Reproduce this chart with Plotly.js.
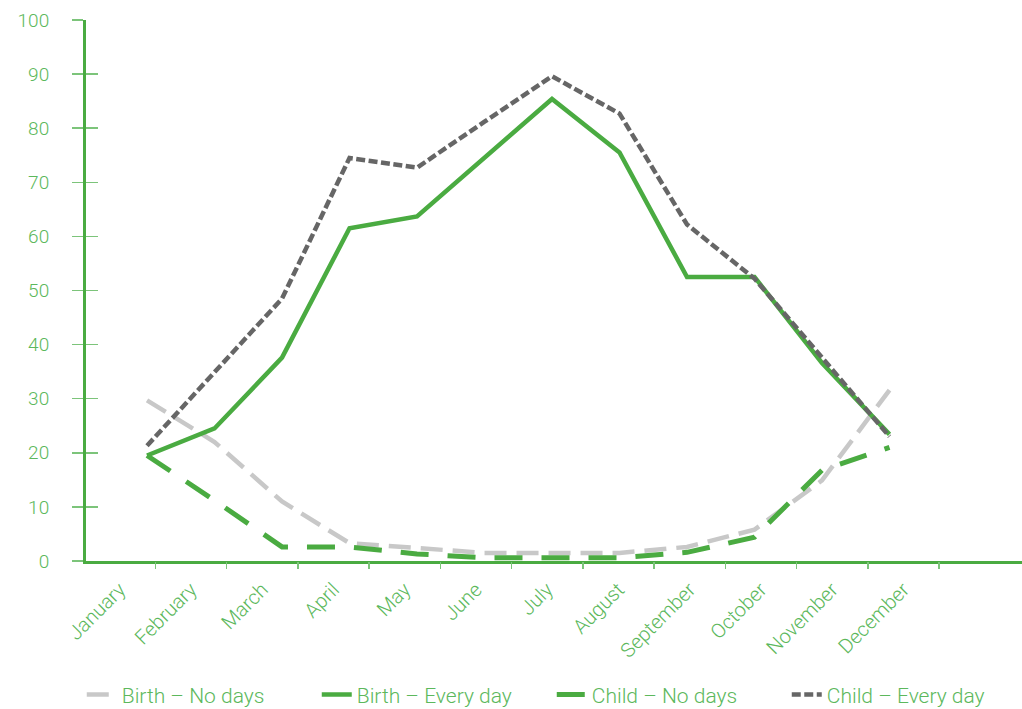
<!DOCTYPE html>
<html>
<head>
<meta charset="utf-8">
<script src="https://cdn.plot.ly/plotly-3.0.1.min.js"></script>
<style>html,body{margin:0;padding:0;background:#fff;}#chart{width:1022px;height:709px;}</style>
</head>
<body>
<div id="chart"></div>
<script>
var months = ["January","February","March","April","May","June","July","August","September","October","November","December"];
var monthIndex = [0,1,2,3,4,5,6,7,8,9,10,11];
var birthNoDays    = [29.7, 22.0, 11.0, 3.3, 2.4, 1.5, 1.5, 1.5, 2.6, 5.8, 14.9, 31.6];
var birthEveryDay  = [19.5, 24.5, 37.6, 61.5, 63.7, 74.6, 85.4, 75.5, 52.5, 52.5, 36.6, 23.4];
var childNoDays    = [19.5, 11.2, 2.6, 2.6, 1.3, 0.6, 0.6, 0.6, 1.6, 4.4, 16.8, 21.0];
var childEveryDay  = [21.3, 34.9, 48.5, 74.5, 72.7, 81.2, 89.6, 82.7, 62.2, 52.2, 37.5, 23.0];
var seriesNames = ["Birth \u2013 No days","Birth \u2013 Every day","Child \u2013 No days","Child \u2013 Every day"];

var GREEN = "#4aab41";
var TXT = "#5cb85c";
var TICK = "#7cc47a";
var FONT = "Roboto, 'Liberation Sans', sans-serif";

var traces = [
  {x: monthIndex, y: birthNoDays, name: seriesNames[0], type: "scatter", mode: "lines",
   line: {color: "#c8c8c8", width: 4.5, dash: "22px,10px"}},
  {x: monthIndex, y: birthEveryDay, name: seriesNames[1], type: "scatter", mode: "lines",
   line: {color: GREEN, width: 4.5}},
  {x: monthIndex, y: childNoDays, name: seriesNames[2], type: "scatter", mode: "lines",
   line: {color: GREEN, width: 5, dash: "28px,19px"}},
  {x: monthIndex, y: childEveryDay, name: seriesNames[3], type: "scatter", mode: "lines",
   line: {color: "#666666", width: 4.5, dash: "9px,3.5px"}},
  // empty helper traces so the overlaid label / tick axes are created
  {x: [null], y: [null], xaxis: "x2", yaxis: "y", showlegend: false, hoverinfo: "skip", mode: "lines"},
  {x: [null], y: [null], xaxis: "x3", yaxis: "y", showlegend: false, hoverinfo: "skip", mode: "lines"},
  {x: [null], y: [null], xaxis: "x", yaxis: "y2", showlegend: false, hoverinfo: "skip", mode: "lines"}
];

var boundaries = [];
for (var i = 0; i <= 12; i++) boundaries.push(i - 0.5);

var layout = {
  width: 1022, height: 709,
  margin: {l: 86, r: 0, t: 20, b: 148},
  paper_bgcolor: "#fff", plot_bgcolor: "#fff",
  font: {family: FONT, size: 19, color: TXT, weight: 300},
  showlegend: true,
  legend: {orientation: "h", xref: "container", yref: "container", x: 0.08, xanchor: "left",
           y: 0.02, yanchor: "middle", entrywidth: 190,
           font: {family: FONT, size: 21, color: TXT, weight: 300}, itemwidth: 30, tracegroupgap: 0},
  xaxis: {range: [-0.904, 12.963], showticklabels: false, ticks: "", showgrid: false, zeroline: false,
          showline: true, linecolor: GREEN, linewidth: 2.5, fixedrange: true},
  xaxis2: {overlaying: "x", anchor: "y", side: "bottom", range: [-0.472, 12.665],
           tickmode: "array", tickvals: monthIndex, ticktext: months, tickangle: -45,
           ticks: "", showgrid: false, zeroline: false, showline: false, ticklabelstandoff: 12,
           tickfont: {family: FONT, size: 20, color: TXT, weight: 300}},
  xaxis3: {overlaying: "x", anchor: "y", side: "bottom", range: [-0.472, 12.665],
           tickmode: "array", tickvals: boundaries, ticks: "outside", ticklen: 7, tickwidth: 1.5,
           tickcolor: TICK, showticklabels: false, showgrid: false, zeroline: false, showline: false},
  yaxis: {range: [0, 100], tickmode: "linear", tick0: 0, dtick: 10, ticks: "outside", ticklen: 11,
          tickwidth: 1.5, tickcolor: TICK, showgrid: false, zeroline: false, showline: true,
          linecolor: GREEN, linewidth: 3, ticklabelstandoff: 19,
          tickfont: {family: FONT, size: 19, color: TXT, weight: 300}},
  yaxis2: {overlaying: "y", anchor: "x", side: "left", range: [0, 100], tickmode: "linear", tick0: 0,
           dtick: 10, ticks: "inside", ticklen: 12, tickwidth: 1.5, tickcolor: TICK,
           showticklabels: false, showgrid: false, zeroline: false, showline: false}
};

Plotly.newPlot("chart", traces, layout, {displayModeBar: false, staticPlot: true});
</script>
</body>
</html>
